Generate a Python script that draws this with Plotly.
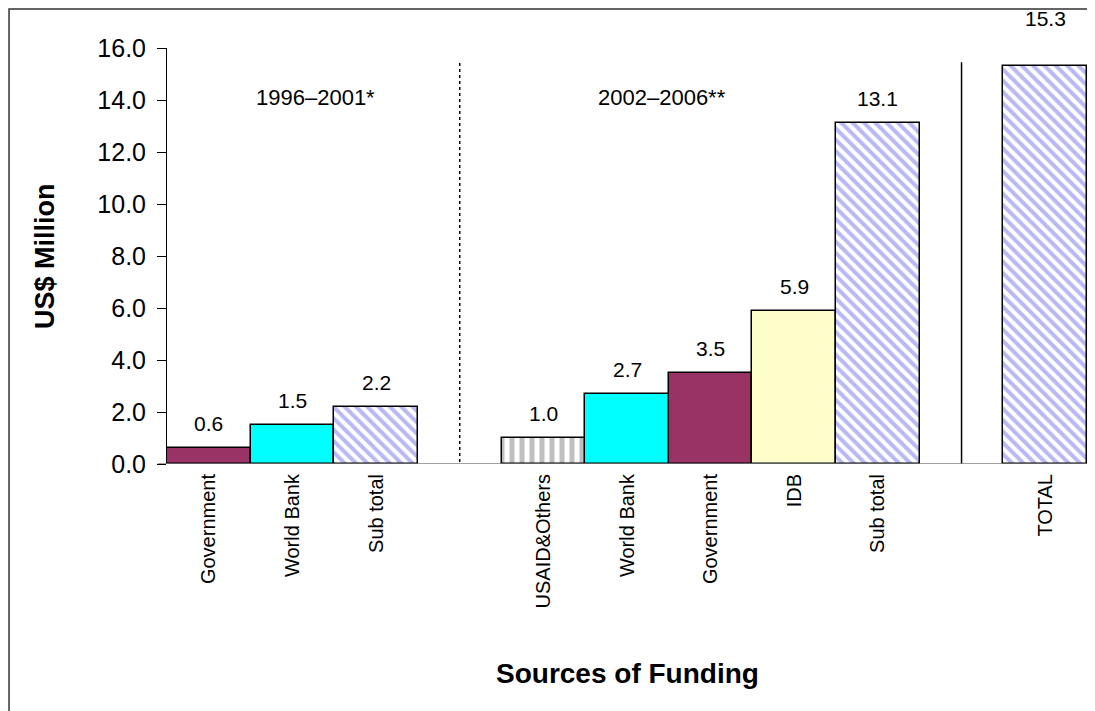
import plotly.graph_objects as go

# ---- data ----
periods = ["1996–2001*", "2002–2006**", ""]
categories = [
    ["Government", "World Bank", "Sub total"],
    ["USAID&Others", "World Bank", "Government", "IDB", "Sub total"],
    ["TOTAL"],
]
values = [
    [0.6, 1.5, 2.2],
    [1.0, 2.7, 3.5, 5.9, 13.1],
    [15.3],
]
# fill style key per bar
styles = [
    ["gov", "wb", "sub"],
    ["usaid", "wb", "gov", "idb", "sub"],
    ["sub"],
]
style_defs = {
    "gov":   dict(color="#993366"),
    "wb":    dict(color="#00FFFF"),
    "idb":   dict(color="#FFFFCC"),
    "sub":   dict(color="#FFFFFF", pattern=dict(shape="\\", fgcolor="#B8B8F4", bgcolor="#FFFFFF",
                                                 fgopacity=1, size=8, solidity=0.5, fillmode="replace")),
    "usaid": dict(color="#FFFFFF", pattern=dict(shape="|", fgcolor="#BFBFBF", bgcolor="#FFFFFF",
                                                 fgopacity=1, size=10, solidity=0.5, fillmode="replace")),
}

# ---- build positions (one blank slot between groups) ----
xs, labels, ys, sts = [], [], [], []
group_starts, dividers = [], []
pos = 0
for gi, (cats, vals) in enumerate(zip(categories, values)):
    group_starts.append(pos)
    for c, v, s in zip(cats, vals, styles[gi]):
        xs.append(pos); labels.append(c); ys.append(v); sts.append(s)
        pos += 1
    if gi < len(categories) - 1:
        dividers.append(pos)
        pos += 1

font = "Liberation Sans, Arial, sans-serif"

fig = go.Figure()
for key, sd in style_defs.items():
    bx = [x for x, s in zip(xs, sts) if s == key]
    by = [y for y, s in zip(ys, sts) if s == key]
    marker = dict(color=sd["color"], line=dict(color="#000000", width=1.5))
    if "pattern" in sd:
        marker["pattern"] = sd["pattern"]
    fig.add_trace(go.Bar(x=bx, y=by, width=1.0, marker=marker, name=key, hoverinfo="y"))

# value labels
for x, y, lab in zip(xs, ys, labels):
    shift = 34 if lab == "TOTAL" else 11
    fig.add_annotation(x=x, y=y, text=f"{y:.1f}", showarrow=False,
                       yanchor="bottom", yshift=shift,
                       font=dict(family=font, size=21, color="#000000"))

# period labels
period_offsets = [1.27, 1.42, 0]
for st, off, ptxt in zip(group_starts, period_offsets, periods):
    if ptxt:
        fig.add_annotation(x=st + off, y=14.1, text=ptxt, showarrow=False,
                           font=dict(family=font, size=22, color="#000000"))

# divider lines
for i, d in enumerate(dividers):
    fig.add_shape(type="line", x0=d, x1=d, y0=-0.15, y1=15.45, xref="x", yref="y",
                  line=dict(color="#000000", width=1.5, dash="dot" if i == 0 else "solid"))

# x axis line (extends slightly left of y axis)
fig.add_shape(type="line", x0=-0.01, x1=1.0, y0=0, y1=0, xref="paper", yref="y",
              line=dict(color="#808080", width=1.5))

# outer border
fig.add_shape(type="rect", x0=-0.1717, x1=1.05, y0=-0.8, y1=1.0938,
              xref="paper", yref="paper", line=dict(color="#333333", width=1.5),
              fillcolor="rgba(0,0,0,0)")

# axis titles
fig.add_annotation(text="<b>US$ Million</b>", xref="paper", yref="paper",
                   x=-0.1326, y=0.5, xanchor="center", yanchor="middle",
                   textangle=-90, showarrow=False,
                   font=dict(family=font, size=27, color="#000000"))
fig.add_annotation(text="<b>Sources of Funding</b>", xref="paper", yref="paper",
                   x=0.5, y=-0.503, xanchor="center", yanchor="middle", showarrow=False,
                   font=dict(family=font, size=28, color="#000000"))

fig.update_layout(
    width=1087, height=703,
    margin=dict(l=159, r=8, t=40, b=247),
    paper_bgcolor="#FFFFFF", plot_bgcolor="#FFFFFF",
    barmode="overlay", bargap=0, showlegend=False,
    font=dict(family=font, color="#000000"),
)
fig.update_xaxes(
    range=[-0.5, pos - 0.5], tickmode="array", tickvals=xs, ticktext=labels,
    tickangle=-90, tickfont=dict(size=20), showgrid=False, zeroline=False,
    showline=False, ticks="", ticklabelstandoff=5,
)
fig.update_yaxes(
    range=[0, 16], dtick=2, tickformat=".1f", tickfont=dict(size=25),
    showgrid=False, zeroline=False, showline=True, linecolor="#000000", linewidth=1,
    ticks="outside", ticklen=9, tickcolor="#000000", ticklabelstandoff=6,
)

fig.write_html("out.html")
